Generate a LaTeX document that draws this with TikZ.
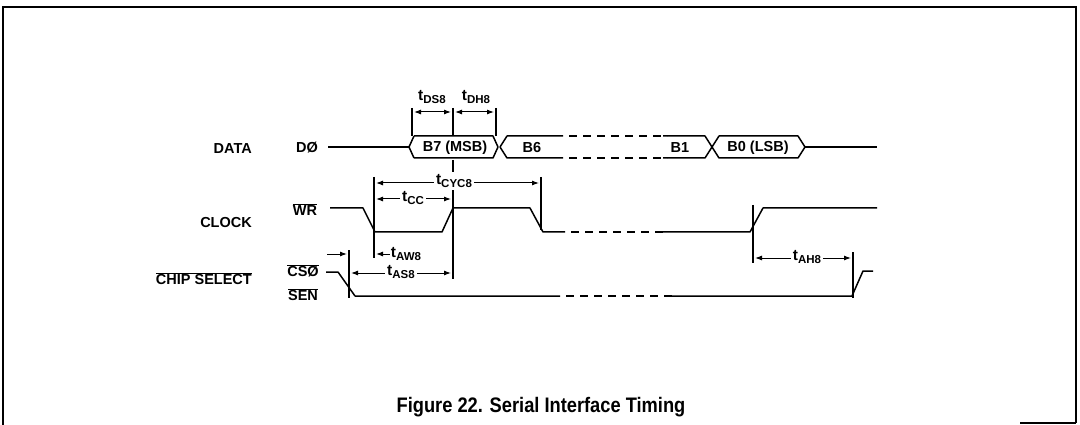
\documentclass[tikz,border=0pt]{standalone}
\usepackage{fontspec}
\setmainfont{Liberation Sans}
\usetikzlibrary{arrows.meta}
\newcommand\tlab[1]{{\fontsize{15.5}{16}\selectfont t}\raisebox{-0.5ex}{\fontsize{11.5}{12}\selectfont #1}}
\newcommand\ovl[1]{$\overline{\mbox{#1}}$}
\begin{document}
\begin{tikzpicture}[x=1pt,y=-1pt,
  sig/.style={line width=1.5pt, line join=round},
  dsig/.style={sig, dash pattern=on 8pt off 6pt},
  guide/.style={line width=1.2pt},
  dimarr/.style={line width=1pt, {Latex[length=7pt,width=5pt]}-{Latex[length=7pt,width=5pt]}, shorten <=2pt, shorten >=2pt},
  onearr/.style={line width=1pt, -{Latex[length=7pt,width=5pt]}, shorten >=2pt},
  lbl/.style={font=\fontsize{14.5}{16}\selectfont\bfseries, inner sep=1pt},
  tl/.style={lbl, fill=white, inner sep=2pt},
  frame/.style={line width=1.4pt}]
\useasboundingbox (0,0) rectangle (1080,425);
% frame
\draw[frame] (3,425) -- (3,7) -- (1076,7) -- (1076,423);
\draw[frame] (1020,423) -- (1076,423);

% row labels
\node[lbl, anchor=east] (data) at (253,149) {DATA};
\node[lbl, anchor=east] (clock) at (253,223) {CLOCK};
\node[lbl, anchor=east] (chip) at (253,279) {\ovl{CHIP SELECT}};
\node[lbl] (d0) at (307,148) {DØ};
\node[lbl] (wr) at (305,210) {\ovl{WR}};
\node[lbl] (cs0) at (303,271) {\ovl{CSØ}};
\node[lbl] (sen) at (303,295) {\ovl{SEN}};

% DATA waveform
\coordinate (ds) at (328,147);
\coordinate (b7l) at (409,147);
\draw[sig] (ds) -- (b7l);
\draw[sig] (414,136) -- (b7l) -- (414,158);
\draw[sig] (414,136) -- (493,136) -- (498,147) -- (493,158) -- (414,158);
\draw[sig] (500,147) -- (507,136) -- (563,136);
\draw[sig] (500,147) -- (507,158) -- (563,158);
\draw[dsig] (569,136) -- (667,136);
\draw[dsig] (569,158) -- (667,158);
\draw[sig] (663,136) -- (705,136) -- (719,158) -- (798,158) -- (805,147) -- (798,136) -- (719,136) -- (705,158) -- (663,158);
\coordinate (de) at (877,147);
\draw[sig] (805,147) -- (de);
\node[lbl] (b7) at (455,148) {B7 (MSB)};
\node[lbl] (b6) at (532,148) {B6};
\node[lbl] (b1) at (680,148) {B1};
\node[lbl] (b0) at (758,148) {B0 (LSB)};

% CLOCK waveform
\draw[sig] (330,208) -- (363,208) -- (375,232) -- (442,232) -- (453,208) -- (530,208) -- (543,232) -- (565,232);
\draw[dsig] (571,232) -- (667,232);
\draw[sig] (663,232) -- (750,232) -- (763,208) -- (877,208);

% CHIP SELECT waveform
\draw[sig] (326,272) -- (338,272) -- (355,296) -- (560,296);
\draw[dsig] (566,296) -- (672,296);
\draw[sig] (668,296) -- (852,296) -- (863,271) -- (873,271);

% guide lines
\coordinate (g1t) at (412,108); \coordinate (g1b) at (412,136);
\coordinate (g2t) at (453,108); \coordinate (g2b) at (453,136);
\coordinate (g3t) at (496,108); \coordinate (g3b) at (496,136);
\draw[guide] (g1t) -- (g1b);
\draw[guide] (g2t) -- (g2b);
\draw[guide] (g3t) -- (g3b);
\coordinate (h1t) at (453,160); \coordinate (h1b) at (453,279);
\draw[guide] (h1t) -- (h1b);
\coordinate (k1t) at (374,177); \coordinate (k1b) at (374,258);
\draw[guide] (k1t) -- (k1b);
\coordinate (k2t) at (541,177); \coordinate (k2b) at (541,230);
\draw[guide] (k2t) -- (k2b);
\coordinate (c1t) at (349,250); \coordinate (c1b) at (349,298);
\draw[guide] (c1t) -- (c1b);
\coordinate (m1t) at (753,205); \coordinate (m1b) at (753,263);
\draw[guide] (m1t) -- (m1b);
\coordinate (m2t) at (853,252); \coordinate (m2b) at (853,298);
\draw[guide] (m2t) -- (m2b);

% timing dimensions
\draw[dimarr] (412,112) -- (453,112);
\draw[dimarr] (453,112) -- (496,112);
\node[lbl] (tds) at (432,97) {\tlab{DS8}};
\node[lbl] (tdh) at (476,97) {\tlab{DH8}};

\draw[dimarr] (374,183) -- (541,183);
\node[tl] (tcyc) at (454,181) {\tlab{CYC8}};
\draw[dimarr] (374,199) -- (453,199);
\node[tl] (tcc) at (413,198) {\tlab{CC}};

\node[lbl] (taw) at (406,254) {\tlab{AW8}};
\draw[onearr] (taw.west) -- (374,254);
\draw[dimarr] (349,273) -- (453,273);
\node[tl] (tas) at (401,272) {\tlab{AS8}};
\coordinate (csa) at (327,254);
\draw[onearr] (csa) -- (349,254);

\draw[dimarr] (753,258) -- (853,258);
\node[tl] (tah) at (807,257) {\tlab{AH8}};

% caption
\node[font=\fontsize{21}{23}\selectfont\bfseries] (cap) at (541,407) {\scalebox{0.87}[1]{Figure 22. Serial Interface Timing}};
\end{tikzpicture}
\end{document}
